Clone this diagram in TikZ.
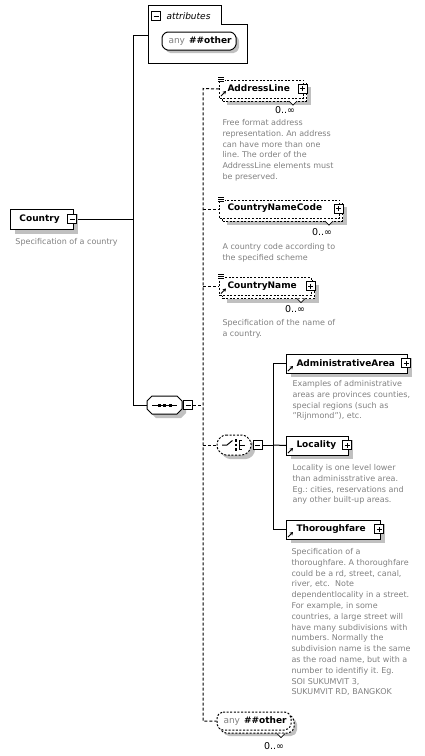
\documentclass[tikz,border=0pt]{standalone}
\usepackage{fontspec}
\setmainfont{DejaVu Sans}
\usetikzlibrary{shadows,arrows.meta}
\definecolor{shgray}{RGB}{192,192,192}
\definecolor{descgray}{RGB}{128,128,128}
\newcommand{\lblfont}{\fontsize{9}{11}\selectfont\bfseries}
\newcommand{\descfont}{\fontsize{8}{10.8}\selectfont}
\newcommand{\octo}[6]{\draw[#1] (#2+#6,#3) -- (#4-#6,#3) -- (#4,#3+#6) -- (#4,#5-#6) -- (#4-#6,#5) -- (#2+#6,#5) -- (#2,#5-#6) -- (#2,#3+#6) -- cycle;}
\newcommand{\eqicon}[2]{\fill[white] (#1-1.5,#2-3.5) rectangle (#1+6,#2+2.5);
  \draw[line width=.7pt] (#1-1,#2-2.5) -- (#1+5,#2-2.5);
  \draw[line width=.7pt] (#1-1,#2-0.5) -- (#1+5,#2-0.5);
  \draw[line width=.7pt] (#1-1,#2+1.5) -- (#1+5,#2+1.5);}
\newcommand{\reficon}[2]{\draw[line width=1pt,-{Stealth[length=3.2pt,width=3.8pt]}] (#1+2,#2-1.5) -- (#1+7,#2-6.5);}
\newcommand{\notch}[2]{\fill[white] (#1-4.5,#2+0.6) -- (#1+4.5,#2+0.6) -- (#1,#2+5) -- cycle;
  \draw[line width=.8pt] (#1-4,#2+0.6) -- (#1,#2+4.6) -- (#1+4,#2+0.6);}
\frenchspacing
\begin{document}
\begin{tikzpicture}[x=1pt,y=-1pt,line width=1pt,
  solidbox/.style={draw, fill=white, inner sep=0, anchor=north west,
    drop shadow={shadow xshift=4pt, shadow yshift=-4pt, fill=shgray, opacity=1}},
  dashback/.style={draw, dash pattern=on 2pt off 1.6pt, fill=white, inner sep=0, anchor=north west,
    drop shadow={shadow xshift=4pt, shadow yshift=-4pt, fill=shgray, opacity=1}},
  dashfront/.style={draw, dash pattern=on 2pt off 1.6pt, fill=white, inner sep=0, anchor=north west},
  lbl/.style={font=\lblfont, inner sep=0, anchor=west},
  desc/.style={font=\descfont, text=descgray, align=left, inner sep=0, anchor=north west},
  mult/.style={font=\fontsize{9.5}{11}\selectfont, inner sep=0},
  anytxt/.style={font=\fontsize{9}{11}\selectfont, inner sep=0, anchor=west},
  ghost/.style={inner sep=0},
  pmminus/.style={draw, fill=white, minimum size=9pt, inner sep=0,
    path picture={\draw[line width=.8pt] ([xshift=-2.5pt]path picture bounding box.center) -- ([xshift=2.5pt]path picture bounding box.center);}},
  pmplus/.style={draw, fill=white, minimum size=9pt, inner sep=0,
    path picture={\draw[line width=.8pt] ([xshift=-2.5pt]path picture bounding box.center) -- ([xshift=2.5pt]path picture bounding box.center);
      \draw[line width=.8pt] ([yshift=-2.5pt]path picture bounding box.center) -- ([yshift=2.5pt]path picture bounding box.center);}},
  dconn/.style={dash pattern=on 3pt off 2pt}]
\useasboundingbox (0,0) rectangle (424,756);

% ---------- named anchors for connectors
\coordinate (attrL) at (148,35);
\coordinate (vtop) at (133,35);
\coordinate (vbot) at (133,405);
\coordinate (dtop) at (203,88.5);
\coordinate (dbot) at (203,721);
\coordinate (cv) at (273,445);
\node[ghost, minimum width=35pt, minimum height=18pt] (seq) at (164.5,405) {};
\node[ghost, minimum width=34pt, minimum height=20pt] (chc) at (234,445) {};
\node[ghost, minimum width=74pt, minimum height=18pt] (anyF) at (254,721) {};
\node[ghost, minimum width=84pt, minimum height=18pt, anchor=north west] (addrG) at (219,79.5) {};
\node[ghost, minimum width=120pt, minimum height=18pt, anchor=north west] (cncG) at (219,199.5) {};
\node[ghost, minimum width=92pt, minimum height=18pt, anchor=north west] (cnG) at (219,277) {};
\node[ghost, minimum width=121pt, minimum height=19pt, anchor=north west] (admG) at (286,353.5) {};
\node[ghost, minimum width=62pt, minimum height=19pt, anchor=north west] (locG) at (286,435.5) {};
\node[ghost, minimum width=94pt, minimum height=19pt, anchor=north west] (thrG) at (286,519.5) {};
\node[pmminus] (ctryM) at (72,219) {};
\node[pmminus] (seqM) at (188,405) {};
\node[pmminus] (chcM) at (257.5,445) {};

% ---------- connectors
\draw (attrL) -- (vtop) -- (vbot) -- (seq.west);
\draw (ctryM.east) -- (ctryM.east -| vtop);
\draw[dconn] (addrG.west) -- (dtop) -- (dbot) -- (anyF.west);
\draw[dconn] (cncG.west -| dtop) -- (cncG.west);
\draw[dconn] (cnG.west -| dtop) -- (cnG.west);
\draw[dconn] (seqM.east) -- (seqM.east -| dtop);
\draw[dconn] (chc.west -| dtop) -- (chc.west);
\draw (chcM.east) -- (cv);
\draw (admG.west) -- (admG.west -| cv) -- (thrG.west -| cv) -- (thrG.west);
\draw (cv) -- (locG.west);

% ---------- Country
\node[solidbox, minimum width=63pt, minimum height=20pt] (ctry) at (10,209) {};
\node[lbl] (ctryL) at (19,219) {Country};
\node[pmminus] (ctryM2) at (72,219) {};
\node[desc] (ctryD) at (15,238) {Specification of a country};

% ---------- attributes
\draw[fill=white] (148,5) -- (221,5) -- (221,24) -- (247,24) -- (247,63) -- (148,63) -- cycle;
\node[pmminus] (attrM) at (156,16) {};
\node[font=\fontsize{9}{11}\selectfont\itshape, inner sep=0, anchor=west] (attrT) at (166,16) {attributes};
\octo{fill=shgray,draw=none,rounded corners=1.5pt}{165}{35}{239}{53}{4}
\octo{fill=white,rounded corners=1.5pt}{162}{32}{236}{50}{4}
\node[anytxt] (attrAny) at (168,41) {\textcolor{descgray}{any}\hspace{4pt}\textbf{\#\#other}};

% ---------- AddressLine
\node[dashback, minimum width=84pt, minimum height=18pt] (addrB) at (222,82.5) {};
\node[dashfront, minimum width=84pt, minimum height=18pt] (addr) at (219,79.5) {};
\notch{293}{100.5}
\eqicon{219}{79.5}
\reficon{219}{97.5}
\node[lbl] (addrL) at (227,88.5) {AddressLine};
\node[pmplus] (addrP) at (302.5,88.5) {};
\node[mult] (addrMu) at (285,110) {0..∞};
\node[desc] (addrD) at (222,119) {Free format address\\representation. An address\\can have more than one\\line. The order of the\\AddressLine elements must\\be preserved.};

% ---------- CountryNameCode
\node[dashback, minimum width=120pt, minimum height=18pt] (cncB) at (222,202.5) {};
\node[dashfront, minimum width=120pt, minimum height=18pt] (cnc) at (219,199.5) {};
\notch{329}{220.5}
\eqicon{219}{199.5}
\node[lbl] (cncL) at (227,208.5) {CountryNameCode};
\node[pmplus] (cncP) at (338.5,208.5) {};
\node[mult] (cncMu) at (322,232) {0..∞};
\node[desc] (cncD) at (222,243) {A country code according to\\the specified scheme};

% ---------- CountryName
\node[dashback, minimum width=92pt, minimum height=18pt] (cnB) at (222,280) {};
\node[dashfront, minimum width=92pt, minimum height=18pt] (cn) at (219,277) {};
\notch{301}{298}
\eqicon{219}{277}
\reficon{219}{295}
\node[lbl] (cnL) at (227,286) {CountryName};
\node[pmplus] (cnP) at (310.5,286) {};
\node[mult] (cnMu) at (295,309) {0..∞};
\node[desc] (cnD) at (222,319) {Specification of the name of\\a country.};

% ---------- sequence
\octo{fill=shgray,draw=none}{151}{400}{186}{418}{5}
\octo{fill=white}{147}{396}{182}{414}{5}
\draw (152,405) -- (177,405);
\fill (157.5,403.5) rectangle +(3,3);
\fill (163,403.5) rectangle +(3,3);
\fill (168.5,403.5) rectangle +(3,3);
\node[pmminus] (seqM2) at (188,405) {};

% ---------- choice
\octo{fill=shgray,draw=none,rounded corners=3pt}{221}{439}{255}{459}{6}
\octo{fill=white,dash pattern=on 2pt off 1.6pt,rounded corners=3pt}{217}{435}{251}{455}{6}
\draw (222,445) -- (227,445) -- (232.5,440.5);
\fill (234.5,439) rectangle +(2.6,2.6);
\fill (234.5,443.7) rectangle +(2.6,2.6);
\fill (234.5,448.4) rectangle +(2.6,2.6);
\draw[line width=.9pt] (241.5,440.3) -- (239.3,440.3) -- (239.3,449.7) -- (241.5,449.7);
\draw[line width=.9pt] (239.3,445) -- (245,445);
\node[pmminus] (chcM2) at (257.5,445) {};

% ---------- AdministrativeArea
\node[solidbox, minimum width=121pt, minimum height=19pt] (adm) at (286,353.5) {};
\reficon{286}{372.5}
\node[lbl] (admL) at (296,363) {AdministrativeArea};
\node[pmplus] (admP) at (406,363) {};
\node[desc] (admD) at (292,380) {Examples of administrative\\areas are provinces counties,\\special regions (such as\\"Rijnmond"), etc.};

% ---------- Locality
\node[solidbox, minimum width=62pt, minimum height=19pt] (loc) at (286,435.5) {};
\reficon{286}{454.5}
\node[lbl] (locL) at (296,445) {Locality};
\node[pmplus] (locP) at (347,445) {};
\node[desc] (locD) at (292,464) {Locality is one level lower\\than adminisstrative area.\\Eg.: cities, reservations and\\any other built-up areas.};

% ---------- Thoroughfare
\node[solidbox, minimum width=94pt, minimum height=19pt] (thr) at (286,519.5) {};
\reficon{286}{538.5}
\node[lbl] (thrL) at (296,529) {Thoroughfare};
\node[pmplus] (thrP) at (379,529) {};
\node[desc] (thrD) at (291,548) {Specification of a\\thoroughfare. A thoroughfare\\could be a rd, street, canal,\\river, etc.\ \ Note\\dependentlocality in a street.\\For example, in some\\countries, a large street will\\have many subdivisions with\\numbers. Normally the\\subdivision name is the same\\as the road name, but with a\\number to identifiy it. Eg.\\SOI SUKUMVIT 3,\\SUKUMVIT RD, BANGKOK};

% ---------- any ##other (element wildcard)
\octo{fill=shgray,draw=none,rounded corners=2pt}{223}{718}{297}{736}{4}
\octo{fill=white,dash pattern=on 2pt off 1.6pt,rounded corners=2pt}{220}{715}{294}{733}{4}
\octo{fill=white,dash pattern=on 2pt off 1.6pt,rounded corners=2pt}{217}{712}{291}{730}{4}
\notch{281}{733}
\node[anytxt] (anyT) at (223,721) {\textcolor{descgray}{any}\hspace{4pt}\textbf{\#\#other}};
\node[mult] (anyMu) at (274,746) {0..∞};
\end{tikzpicture}
\end{document}
